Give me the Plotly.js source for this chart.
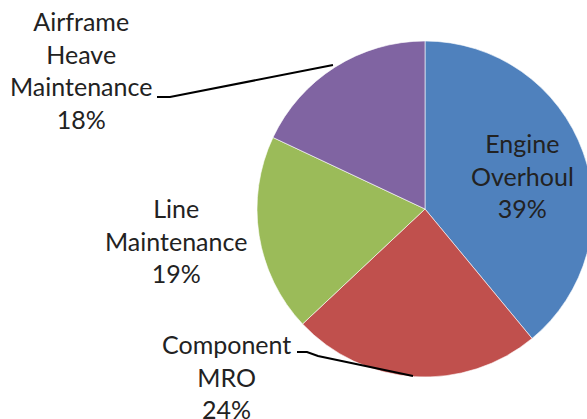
<!DOCTYPE html>
<html>
<head>
<meta charset="utf-8">
<script src="https://cdn.plot.ly/plotly-3.0.1.min.js"></script>
<style>
html,body{margin:0;padding:0;overflow:hidden;background:#fff;}
#chart{width:640px;height:419px;}
</style>
</head>
<body>
<div id="chart"></div>
<script>
// Data
const categories = ["Engine Overhoul", "Component MRO", "Line Maintenance", "Airframe Heave Maintenance"];
const shares = [39, 24, 19, 18];
const colors = ["#4F81BD", "#C0504D", "#9BBB59", "#8064A2"];

const W = 640, H = 419;
const px = x => x / W;
const py = y => 1 - y / H;

// label placement (pixel centres) and line-broken label text
const labelText = [
  "Engine<br>Overhoul<br>" + shares[0] + "%",
  "Component<br>MRO<br>" + shares[1] + "%",
  "Line<br>Maintenance<br>" + shares[2] + "%",
  "Airframe<br>Heave<br>Maintenance<br>" + shares[3] + "%"
];
const labelPos = [[522, 175], [226, 376], [176, 240], [81, 70]];

const cx = 425, cy = 209, r = 168;

const trace = {
  type: "pie",
  labels: categories,
  values: shares,
  sort: false,
  direction: "clockwise",
  rotation: 0,
  textinfo: "none",
  hoverinfo: "label+percent",
  marker: {colors: colors, line: {color: "#ffffff", width: 0.6}},
  domain: {x: [px(cx - r), px(cx + r)], y: [py(cy + r), py(cy - r)]},
  showlegend: false
};

const annotations = labelText.map((t, i) => ({
  text: t,
  xref: "paper", yref: "paper",
  x: px(labelPos[i][0]), y: py(labelPos[i][1]),
  xanchor: "center", yanchor: "middle",
  showarrow: false,
  align: "center",
  font: {family: "Lato, 'Open Sans', sans-serif", size: 25, color: "#222222"}
}));

function pathOf(pts){
  return pts.map((p, i) => (i ? "L" : "M") + px(p[0]).toFixed(5) + "," + py(p[1]).toFixed(5)).join(" ");
}

const shapes = [
  {type: "path", xref: "paper", yref: "paper", path: pathOf([[157, 97], [170, 97], [333, 65]]), line: {color: "#000", width: 2}},
  {type: "path", xref: "paper", yref: "paper", path: pathOf([[297, 352], [307, 352], [318, 356], [413, 376]]), line: {color: "#000", width: 2}}
];

const layout = {
  width: W, height: H,
  margin: {l: 0, r: 0, t: 0, b: 0},
  paper_bgcolor: "#ffffff",
  plot_bgcolor: "#ffffff",
  annotations: annotations,
  shapes: shapes,
  showlegend: false
};

Plotly.newPlot("chart", [trace], layout, {displayModeBar: false, staticPlot: true});
</script>
</body>
</html>
